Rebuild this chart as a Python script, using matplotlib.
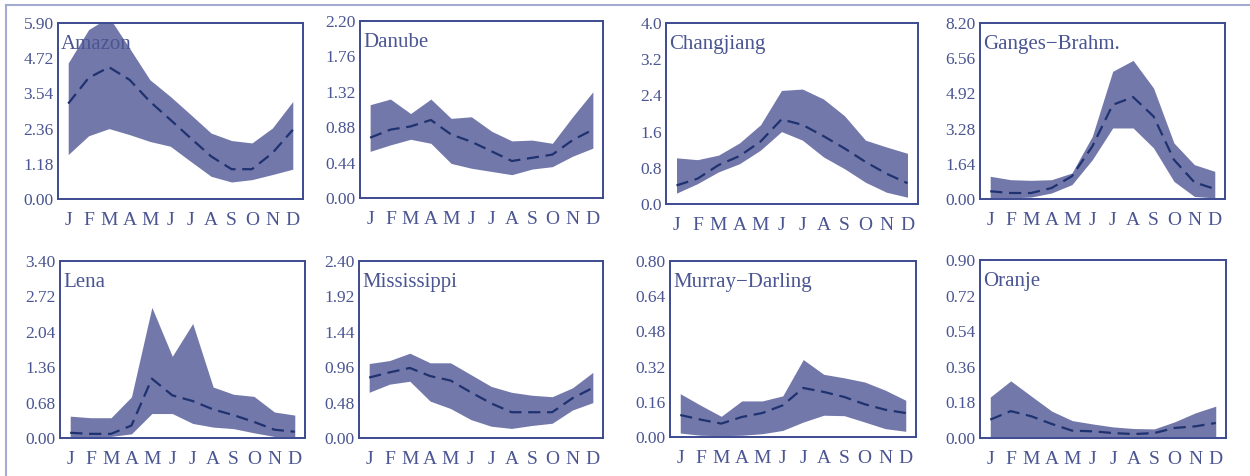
import matplotlib

matplotlib.use("Agg")
import matplotlib.pyplot as plt
import numpy as np

months = ["J", "F", "M", "A", "M", "J", "J", "A", "S", "O", "N", "D"]
rivers = ["Amazon", "Danube", "Changjiang", "Ganges\u2212Brahm.",
          "Lena", "Mississippi", "Murray\u2212Darling", "Oranje"]
ymax = [5.90, 2.20, 4.0, 8.20, 3.40, 2.40, 0.80, 0.90]
ydec = [2, 2, 1, 2, 2, 2, 2, 2]

# monthly upper / lower envelope and mean
amazon_hi = [4.56, 5.68, 6.10, 5.06, 4.00, 3.44, 2.83, 2.21, 1.96, 1.88, 2.38, 3.27]
amazon_lo = [1.49, 2.12, 2.36, 2.16, 1.93, 1.77, 1.26, 0.76, 0.57, 0.65, 0.82, 1.00]
amazon_mean = [3.20, 4.06, 4.42, 4.00, 3.27, 2.66, 2.04, 1.43, 1.00, 1.00, 1.54, 2.32]

danube_hi = [1.16, 1.23, 1.05, 1.23, 0.99, 1.01, 0.83, 0.71, 0.72, 0.68, 1.01, 1.32]
danube_lo = [0.58, 0.66, 0.73, 0.68, 0.43, 0.37, 0.33, 0.29, 0.36, 0.39, 0.52, 0.62]
danube_mean = [0.75, 0.85, 0.89, 0.97, 0.79, 0.70, 0.58, 0.46, 0.50, 0.54, 0.72, 0.85]

chang_hi = [1.02, 0.98, 1.08, 1.35, 1.75, 2.51, 2.54, 2.32, 1.95, 1.41, 1.26, 1.12]
chang_lo = [0.24, 0.45, 0.71, 0.89, 1.19, 1.60, 1.41, 1.04, 0.78, 0.48, 0.26, 0.15]
chang_mean = [0.41, 0.56, 0.86, 1.06, 1.38, 1.87, 1.75, 1.50, 1.23, 0.93, 0.67, 0.46]

ganges_hi = [1.06, 0.90, 0.87, 0.90, 1.21, 2.92, 5.95, 6.46, 5.17, 2.61, 1.60, 1.29]
ganges_lo = [0.05, 0.05, 0.09, 0.28, 0.67, 1.83, 3.31, 3.31, 2.38, 0.82, 0.12, 0.05]
ganges_mean = [0.36, 0.28, 0.28, 0.51, 1.06, 2.45, 4.39, 4.75, 3.85, 1.83, 0.78, 0.47]

lena_hi = [0.42, 0.39, 0.39, 0.79, 2.51, 1.57, 2.20, 0.98, 0.84, 0.80, 0.50, 0.44]
lena_lo = [0.02, 0.02, 0.03, 0.08, 0.47, 0.47, 0.28, 0.21, 0.18, 0.10, 0.03, 0.02]
lena_mean = [0.10, 0.08, 0.08, 0.24, 1.14, 0.82, 0.71, 0.55, 0.44, 0.31, 0.16, 0.12]

miss_hi = [1.01, 1.05, 1.15, 1.02, 1.02, 0.86, 0.70, 0.62, 0.58, 0.56, 0.68, 0.89]
miss_lo = [0.62, 0.73, 0.77, 0.50, 0.40, 0.25, 0.16, 0.13, 0.17, 0.20, 0.38, 0.48]
miss_mean = [0.82, 0.89, 0.95, 0.84, 0.78, 0.62, 0.47, 0.35, 0.35, 0.35, 0.54, 0.68]

murray_hi = [0.197, 0.144, 0.094, 0.164, 0.164, 0.187, 0.352, 0.285, 0.269, 0.250, 0.213, 0.167]
murray_lo = [0.018, 0.008, 0.006, 0.008, 0.015, 0.030, 0.068, 0.099, 0.097, 0.068, 0.038, 0.026]
murray_mean = [0.100, 0.079, 0.061, 0.091, 0.109, 0.144, 0.223, 0.205, 0.182, 0.149, 0.124, 0.109]

oranje_hi = [0.207, 0.289, 0.212, 0.136, 0.088, 0.071, 0.056, 0.048, 0.046, 0.082, 0.127, 0.161]
oranje_lo = [0.006, 0.006, 0.006, 0.005, 0.005, 0.005, 0.005, 0.005, 0.005, 0.005, 0.005, 0.006]
oranje_mean = [0.093, 0.136, 0.110, 0.071, 0.037, 0.034, 0.025, 0.020, 0.025, 0.051, 0.059, 0.076]

his = [amazon_hi, danube_hi, chang_hi, ganges_hi, lena_hi, miss_hi, murray_hi, oranje_hi]
los = [amazon_lo, danube_lo, chang_lo, ganges_lo, lena_lo, miss_lo, murray_lo, oranje_lo]
means = [amazon_mean, danube_mean, chang_mean, ganges_mean,
         lena_mean, miss_mean, murray_mean, oranje_mean]

# axes boxes in figure fraction
boxes = [
    [0.0464, 0.5819, 0.1960, 0.3697],
    [0.2880, 0.5840, 0.1944, 0.3718],
    [0.5328, 0.5714, 0.2016, 0.3803],
    [0.7840, 0.5819, 0.1960, 0.3697],
    [0.0480, 0.0798, 0.1960, 0.3718],
    [0.2872, 0.0798, 0.1952, 0.3718],
    [0.5360, 0.0819, 0.1968, 0.3697],
    [0.7840, 0.0798, 0.1968, 0.3740],
]

fill_col = "#7378aa"
line_col = "#1f3270"
frame_col = "#3c4a92"
text_col = "#4a5592"

plt.rcParams["font.family"] = ["Liberation Serif", "DejaVu Serif"]

fig = plt.figure(figsize=(12.5, 4.76), dpi=100)
x = np.arange(12)

for i, name in enumerate(rivers):
    ax = fig.add_axes(boxes[i])
    ax.fill_between(x, los[i], his[i], color=fill_col, lw=0)
    (ln,) = ax.plot(x, means[i], color=line_col, lw=1.6)
    ln.set_dashes([5.5, 3])
    ax.set_xlim(-0.5, 11.5)
    ax.set_ylim(0, ymax[i])
    ticks = np.linspace(0, ymax[i], 6)
    ax.set_yticks(ticks)
    ax.set_yticklabels([f"{t:.{ydec[i]}f}" for t in ticks])
    ax.set_xticks(x)
    ax.set_xticklabels(months)
    ax.tick_params(axis="y", length=0, pad=3, labelsize=12.5, labelcolor=text_col)
    ax.tick_params(axis="x", length=0, pad=9, labelsize=14, labelcolor=text_col)
    for sp in ax.spines.values():
        sp.set_color(frame_col)
        sp.set_linewidth(1.4)
    ax.text(0.012, 0.88, name, transform=ax.transAxes, ha="left", va="center",
            fontsize=15, color=text_col)

# outer frame lines
fig.add_artist(plt.Line2D([0.0048, 1.0], [0.9895, 0.9895], color="#a4abd0", lw=1.5))
fig.add_artist(plt.Line2D([0.0048, 0.0048], [0.0, 0.9895], color="#a4abd0", lw=1.5))

fig.savefig("out.png", dpi=100)
